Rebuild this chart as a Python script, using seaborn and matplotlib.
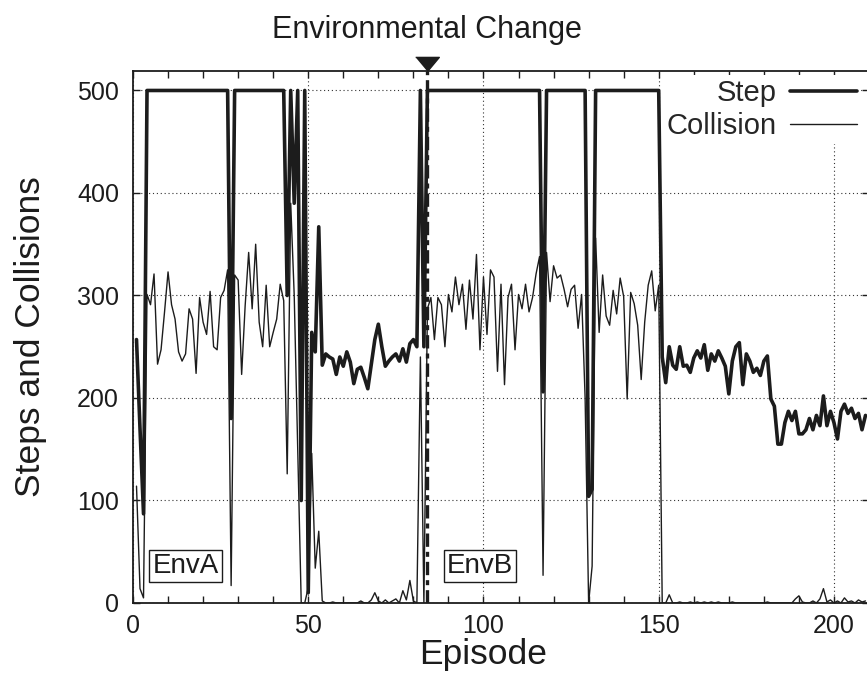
import matplotlib
matplotlib.use("Agg")
import matplotlib.pyplot as plt
import seaborn as sns
import numpy as np
import pandas as pd
from matplotlib.ticker import MultipleLocator

# episodes 1..209, values
episodes = list(range(1, 210))

steps = [
    257, 170, 87, 500, 500, 500, 500, 500, 500, 500,
    500, 500, 500, 500, 500, 500, 500, 500, 500, 500,
    500, 500, 500, 500, 500, 500, 500, 180, 500, 500,
    500, 500, 500, 500, 500, 500, 500, 500, 500, 500,
    500, 500, 500, 300, 500, 390, 500, 100, 500, 10,
    264, 245, 367, 232, 243, 240, 238, 223, 240, 231,
    245, 235, 214, 228, 230, 220, 209, 233, 257, 272,
    250, 231, 236, 240, 243, 236, 248, 235, 253, 257,
    250, 500, 250, 500, 500, 500, 500, 500, 500, 500,
    500, 500, 500, 500, 500, 500, 500, 500, 500, 500,
    500, 500, 500, 500, 500, 500, 500, 500, 500, 500,
    500, 500, 500, 500, 500, 500, 206, 500, 500, 500,
    500, 500, 500, 500, 500, 500, 500, 500, 500, 104,
    111, 500, 500, 500, 500, 500, 500, 500, 500, 500,
    500, 500, 500, 500, 500, 500, 500, 500, 500, 500,
    240, 215, 250, 232, 228, 250, 231, 232, 225, 239,
    246, 239, 252, 227, 243, 236, 246, 239, 231, 204,
    236, 250, 254, 213, 243, 236, 225, 229, 222, 236,
    241, 199, 192, 155, 155, 176, 187, 178, 187, 165,
    165, 169, 180, 169, 183, 173, 202, 173, 187, 176,
    160, 187, 194, 185, 190, 180, 185, 169, 183,
]

collisions = [
    114, 14, 5, 301, 291, 321, 233, 247, 284, 323,
    291, 277, 245, 236, 243, 287, 277, 224, 298, 274,
    262, 304, 250, 247, 298, 305, 325, 17, 320, 315,
    223, 290, 342, 287, 350, 274, 250, 310, 250, 264,
    277, 311, 295, 126, 390, 300, 150, 0, 0, 15,
    146, 34, 70, 2, 0, 0, 1, 0, 0, 0,
    0, 0, 0, 0, 2, 0, 0, 3, 10, 2,
    0, 3, 0, 2, 4, 0, 12, 3, 22, 2,
    0, 240, 0, 287, 298, 257, 298, 291, 250, 301,
    284, 318, 291, 311, 267, 315, 277, 340, 247, 318,
    262, 325, 318, 226, 311, 213, 298, 311, 247, 301,
    287, 311, 284, 298, 321, 338, 27, 342, 294, 329,
    317, 320, 306, 289, 306, 310, 268, 301, 200, 0,
    36, 356, 264, 320, 280, 271, 305, 282, 317, 299,
    199, 303, 292, 271, 218, 274, 310, 324, 285, 310,
    0, 0, 8, 0, 0, 1, 0, 0, 1, 0,
    1, 0, 1, 0, 1, 0, 1, 0, 0, 0,
    1, 0, 0, 0, 0, 0, 0, 0, 0, 0,
    1, 0, 0, 0, 0, 0, 0, 0, 4, 7,
    1, 0, 0, 2, 0, 4, 14, 1, 3, 0,
    2, 0, 5, 1, 2, 0, 3, 1, 2,
]

change_episode = 84
env_names = ["EnvA", "EnvB"]
env_x = [15, 99]

df = pd.DataFrame({"Episode": episodes, "Step": steps, "Collision": collisions})

sns.set_theme(style="ticks")
plt.rcParams["font.family"] = ["Liberation Sans", "DejaVu Sans"]

ink = "#1c1c1c"
W, H = 867, 687
fig = plt.figure(figsize=(W / 100, H / 100), dpi=100)
# axes run slightly past the right edge, like the cropped original
ax = fig.add_axes([133 / W, 1 - 603 / H, (869 - 133) / W, (603 - 71) / H])

sns.lineplot(data=df, x="Episode", y="Step", ax=ax, color=ink, linewidth=2.6, label="Step")
sns.lineplot(data=df, x="Episode", y="Collision", ax=ax, color=ink, linewidth=1.0, label="Collision")

ax.set_xlim(0, 210)
ax.set_ylim(0, 519)
ax.xaxis.set_major_locator(MultipleLocator(50))
ax.xaxis.set_minor_locator(MultipleLocator(10))
ax.yaxis.set_major_locator(MultipleLocator(100))

ax.grid(True, which="major", linestyle=(0, (1, 2.5)), color="#333333", linewidth=0.8)
ax.set_axisbelow(True)

ax.tick_params(which="both", direction="in", top=True, right=True, length=5, width=1, color=ink)
ax.tick_params(axis="both", labelsize=18, labelcolor=ink)
ax.tick_params(axis="y", pad=10)
ax.tick_params(axis="x", pad=8)
for s in ax.spines.values():
    s.set_linewidth(1.3)
    s.set_color(ink)

# environment change marker
ax.axvline(change_episode, color=ink, linewidth=2.4, linestyle=(0, (4, 1.5, 1.5, 1.5)), zorder=3)
ax.plot([change_episode], [526], marker=[(-1, 0.6), (1, 0.6), (0, -0.6)], ms=17,
        color=ink, clip_on=False, zorder=6)
fig.text(427 / W, 1 - 30 / H, "Environmental Change", fontsize=22, ha="center", va="center", color=ink)

for name, xpos in zip(env_names, env_x):
    ax.text(xpos, 36, name, fontsize=20, ha="center", va="center", color=ink, zorder=7,
            bbox=dict(boxstyle="square,pad=0.12", fc="white", ec=ink, lw=1))

ax.set_xlabel("Episode", fontsize=25.5, color=ink)
ax.set_ylabel("Steps and Collisions", fontsize=25.5, color=ink)
ax.xaxis.label.set_va("baseline")
ax.xaxis.set_label_coords((483 - 133) / 736, (603 - 664) / 532)
ax.yaxis.label.set_va("baseline")
ax.yaxis.set_label_coords((40 - 133) / 736, 0.5)

leg = ax.legend(loc="upper right", bbox_to_anchor=(861 / W, 1 - 75 / H), bbox_transform=fig.transFigure,
                markerfirst=False, frameon=True, fancybox=False, framealpha=1, facecolor="white",
                edgecolor="none", fontsize=21, handlelength=2.3, handletextpad=0.45,
                labelspacing=0.15, borderpad=0.15, borderaxespad=0)
# key sits above the grid but under the data lines
leg.set_zorder(1.5)

fig.savefig("out.png", dpi=100)
